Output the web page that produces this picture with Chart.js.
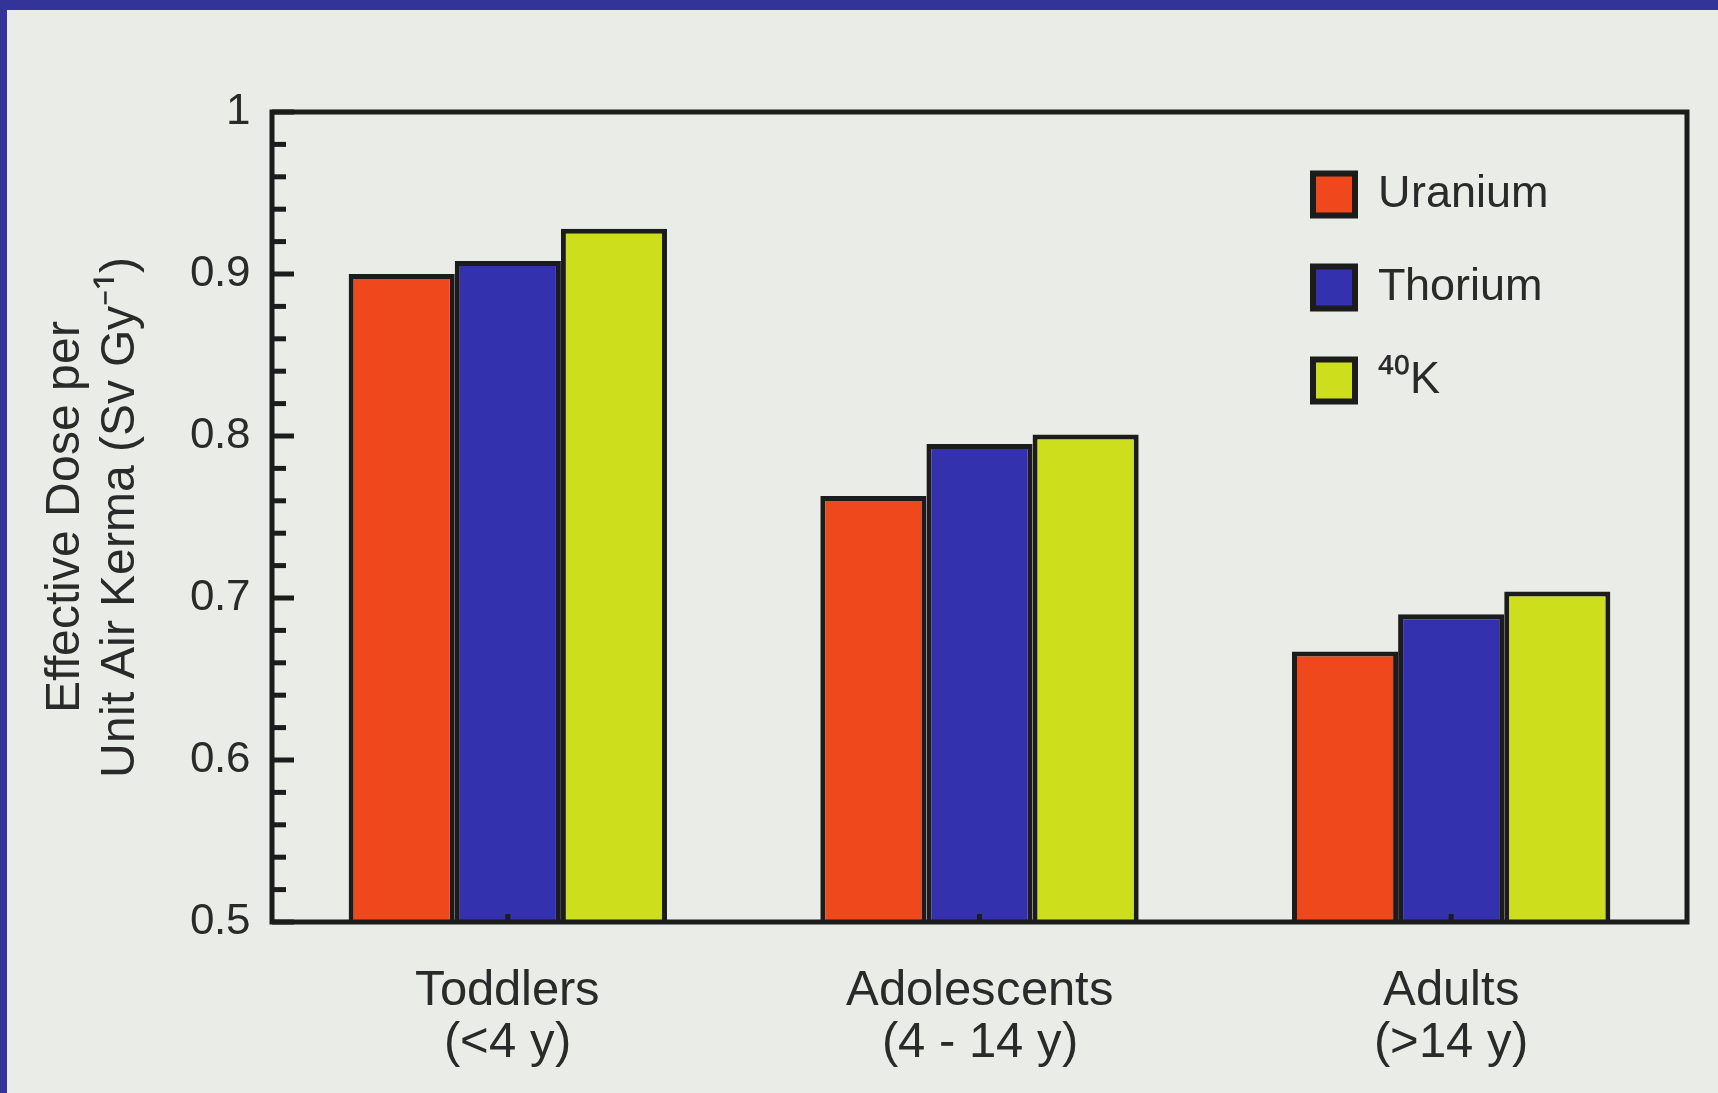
<!DOCTYPE html>
<html>
<head>
<meta charset="utf-8">
<script src="https://cdn.jsdelivr.net/npm/chart.js@4.4.0/dist/chart.umd.min.js"></script>
<style>
  @font-face {
    font-family: 'ChartSans';
    src: local('Liberation Sans'), local('LiberationSans-Regular'), local('Liberation Sans Regular');
  }
  @font-face {
    font-family: 'ChartSans';
    src: local('Noto Sans'), local('NotoSans-Regular'), local('Noto Sans Regular');
    unicode-range: U+00B9, U+2070-209F;
  }
  html, body { margin: 0; padding: 0; background: #33339a; overflow: hidden; }
  #paper { position: absolute; left: 7px; top: 10px; width: 1711px; height: 1083px; background: #eaece8; }
  #chart { display: block; }
</style>
</head>
<body>
<div id="paper"><canvas id="chart" width="1711" height="1083"></canvas></div>
<script>
'use strict';

var groups = [['Toddlers', '(<4 y)'], ['Adolescents', '(4 - 14 y)'], ['Adults', '(>14 y)']];
var seriesNames = ['Uranium', 'Thorium', '\u2074\u2070K'];
var uranium = [0.900, 0.763, 0.667];
var thorium = [0.908, 0.795, 0.690];
var potassium = [0.928, 0.801, 0.704];
var yTitle = ['Effective Dose per', 'Unit Air Kerma (Sv Gy\u207B\u00B9)'];

var ink = '#1c1c1c';
var textInk = '#2a2a2a';
var fontFamily = "ChartSans, 'Liberation Sans', Arial, Helvetica, sans-serif";

// legend sits in the upper right of the plot box
var legendSpot = { left: 1041, top: 12 };

function yLabel(value){
  var r = Math.round(value * 10) / 10;
  if (Math.abs(value - r) > 1e-6) {
    return '';
  }
  return r === 1 ? '1' : r.toFixed(1);
}

var framePlugin = {
  id: 'frame',
  afterLayout: function(chart){
    var lg = chart.legend;
    var ca = chart.chartArea;
    var pad = lg.options.labels.padding;
    lg.left = ca.left + legendSpot.left - pad;
    lg.top = ca.top + legendSpot.top;
    lg.right = lg.left + lg.width;
    lg.bottom = lg.top + lg.height;
  },
  afterDatasetsDraw: function(chart){
    var ctx = chart.ctx;
    var ca = chart.chartArea;
    var y = chart.scales.y;
    var x = chart.scales.x;
    ctx.save();
    ctx.strokeStyle = ink;
    ctx.lineWidth = 5;
    // inward ticks on the value axis
    y.ticks.forEach(function(t){
      var py = y.getPixelForValue(t.value);
      var len = yLabel(t.value) === '' ? 14 : 22;
      ctx.beginPath();
      ctx.moveTo(ca.left, py);
      ctx.lineTo(ca.left + len, py);
      ctx.stroke();
    });
    // small ticks at group centres
    x.ticks.forEach(function(t, i){
      var px = x.getPixelForTick(i);
      ctx.beginPath();
      ctx.moveTo(px, ca.bottom);
      ctx.lineTo(px, ca.bottom - 8);
      ctx.stroke();
    });
    ctx.strokeRect(ca.left, ca.top, ca.right - ca.left, ca.bottom - ca.top);
    ctx.restore();
  }
};

function legendLabels(chart){
  var items = Chart.defaults.plugins.legend.labels.generateLabels(chart);
  items.forEach(function(item){
    item.lineWidth = 6;
  });
  return items;
}

function draw(){
  var ctx = document.getElementById('chart').getContext('2d');
  new Chart(ctx, {
    type: 'bar',
    data: {
      labels: groups,
      datasets: [
        { label: seriesNames[0], data: uranium, backgroundColor: '#ef481d', borderColor: ink, borderWidth: 5 },
        { label: seriesNames[1], data: thorium, backgroundColor: '#3331ae', borderColor: ink, borderWidth: 5 },
        { label: seriesNames[2], data: potassium, backgroundColor: '#cddf1c', borderColor: ink, borderWidth: 5 }
      ]
    },
    options: {
      responsive: false,
      animation: false,
      layout: { padding: { top: 102, right: 31, bottom: 0, left: 0 } },
      datasets: {
        bar: { categoryPercentage: 0.675, barPercentage: 1.0 }
      },
      plugins: {
        tooltip: { enabled: false },
        legend: {
          position: 'chartArea',
          align: 'start',
          labels: {
            boxWidth: 42,
            boxHeight: 42,
            padding: 48,
            color: textInk,
            font: { family: fontFamily, size: 45 },
            generateLabels: legendLabels
          }
        }
      },
      scales: {
        x: {
          grid: { display: false, drawTicks: false },
          border: { display: false },
          ticks: {
            color: textInk,
            padding: 44,
            font: { family: fontFamily, size: 49, lineHeight: 1.05 }
          },
          afterFit: function(scale){ scale.height = 171; }
        },
        y: {
          min: 0.5,
          max: 1,
          grid: { display: false, drawTicks: false },
          border: { display: false },
          ticks: {
            stepSize: 0.02,
            autoSkip: false,
            padding: 22,
            color: textInk,
            font: { family: fontFamily, size: 44 },
            callback: yLabel
          },
          title: {
            display: true,
            text: yTitle,
            color: textInk,
            padding: { top: 31, bottom: 0 },
            font: { family: fontFamily, size: 48, lineHeight: 1.15 }
          },
          afterFit: function(scale){ scale.width = 265; }
        }
      }
    },
    plugins: [framePlugin]
  });
}

document.fonts.load('45px ChartSans', 'Uranium \u2074\u2070K Gy\u207B\u00B9').then(draw, draw);
</script>
</body>
</html>
